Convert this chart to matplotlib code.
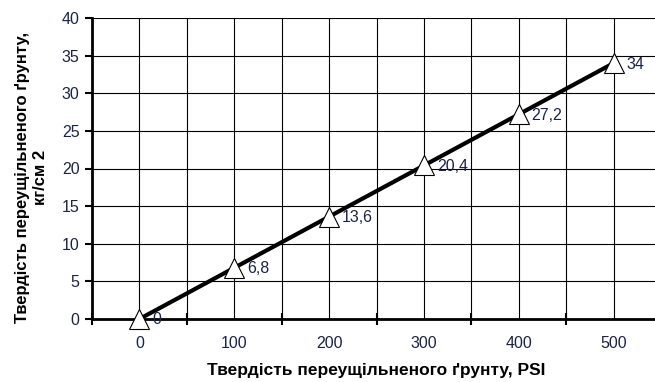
import matplotlib
matplotlib.use("Agg")
import matplotlib.pyplot as plt
import numpy as np

categories = ["0", "100", "200", "300", "400", "500"]
values = [0, 6.8, 13.6, 20.4, 27.2, 34]
value_labels = ["0", "6,8", "13,6", "20,4", "27,2", "34"]
y_ticks = [0, 5, 10, 15, 20, 25, 30, 35, 40]

plt.rcParams['font.family'] = ['Liberation Sans', 'DejaVu Sans']

fig = plt.figure(figsize=(6.55, 3.82), dpi=100)
ax = fig.add_axes([92/655, 1-319/382, (661-92)/655, (319-18)/382])

x = np.arange(len(categories))
ax.set_xlim(-0.5, len(categories) - 0.5)
ax.set_ylim(0, 40)

txt_color = '#1a2448'

# gridlines
ax.set_yticks(y_ticks)
ax.set_xticks(np.arange(-0.5, len(categories)), minor=False)
ax.set_xticks(x, minor=True)
ax.grid(True, which='major', axis='both', color='black', linewidth=0.8)
ax.grid(True, which='minor', axis='x', color='black', linewidth=0.8)
ax.set_axisbelow(True)

ax.plot(x, values, color='black', linewidth=3, zorder=3,
        marker='^', markersize=14, markerfacecolor='white',
        markeredgecolor='black', markeredgewidth=0.8, clip_on=False)

for xi, v, lab in zip(x, values, value_labels):
    ax.annotate(lab, (xi, v), textcoords='offset pixels', xytext=(13, -1),
                ha='left', va='center', fontsize=11.5, color=txt_color, zorder=4)

# tick labels
ax.set_xticklabels([])
ax.set_xticklabels(categories, minor=True)
ax.tick_params(axis='x', which='major', direction='inout', length=8, width=1.5,
               labelbottom=False)
ax.tick_params(axis='x', which='minor', length=0, pad=12, labelsize=11.5,
               labelcolor=txt_color)
ax.tick_params(axis='y', which='major', direction='out', length=5, width=1.5,
               labelsize=11.5, labelcolor=txt_color, pad=4)

for s in ['top', 'right']:
    ax.spines[s].set_visible(False)
ax.spines['left'].set_linewidth(2)
ax.spines['bottom'].set_linewidth(2)

ax.set_xlabel("Твердість переущільненого ґрунту, PSI", fontsize=12.5,
              fontweight='bold', labelpad=9)
ax.set_ylabel("Твердість переущільненого ґрунту,\nкг/см 2", fontsize=12,
              fontweight='bold', labelpad=8, linespacing=1.3)
ax.yaxis.set_label_coords(-0.077, 0.47)

fig.savefig("out.png", dpi=100)
